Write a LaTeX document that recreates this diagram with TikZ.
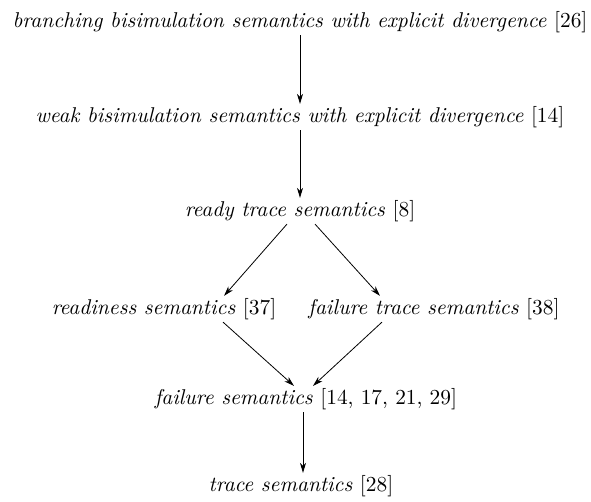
\documentclass[tikz,border=0pt]{standalone}
\usepackage{tikz}
\usetikzlibrary{arrows.meta}

\begin{document}
\begin{tikzpicture}[x=0.5pt,y=-0.5pt,node distance=1.5cm,
    every node/.style={font=\fontsize{10.7}{13}\selectfont\itshape, inner sep=1pt},
    refine/.style={-{Stealth[length=5pt,width=3pt,inset=1.5pt]}, line width=0.4pt}]
        \useasboundingbox (0,0) rectangle (591,502);
        \node (bbdiv) at (300,22) {branching bisimulation semantics with explicit divergence {\upshape[26]}};
        \node (wbdiv) [below of=bbdiv, node distance=47.5pt] {weak bisimulation semantics with explicit divergence {\upshape[14]}};
        \node (rtrace) [below of=wbdiv, node distance=47pt] {ready trace semantics {\upshape[8]}};
        \node (ready) [below of=rtrace, node distance=49pt, xshift=-68pt] {readiness semantics {\upshape[37]}};
        \node (ftrace) [below of=rtrace, node distance=49pt, xshift=67pt] {failure trace semantics {\upshape[38]}};
        \node (fail) [below of=rtrace, node distance=94pt, xshift=3pt] {failure semantics {\upshape[14, 17, 21, 29]}};
        \node (trace) [below of=fail, node distance=43.5pt, xshift=-2.5pt] {trace semantics {\upshape[28]}};

        \draw[refine] (bbdiv.south) -- (wbdiv.north);
        \draw[refine] (wbdiv.south) -- (rtrace.north);
        \draw[refine] ([xshift=-6.5pt]rtrace.south) -- ([xshift=30pt]ready.north);
        \draw[refine] ([xshift=7.5pt]rtrace.south) -- ([xshift=-27pt]ftrace.north);
        \draw[refine] ([xshift=29.5pt]ready.south) -- ([xshift=-6pt]fail.north);
        \draw[refine] ([xshift=-26pt]ftrace.south) -- ([xshift=3.5pt]fail.north);
        \draw[refine] ([xshift=-1.5pt]fail.south) -- ([xshift=1pt]trace.north);

    \end{tikzpicture}
\end{document}
